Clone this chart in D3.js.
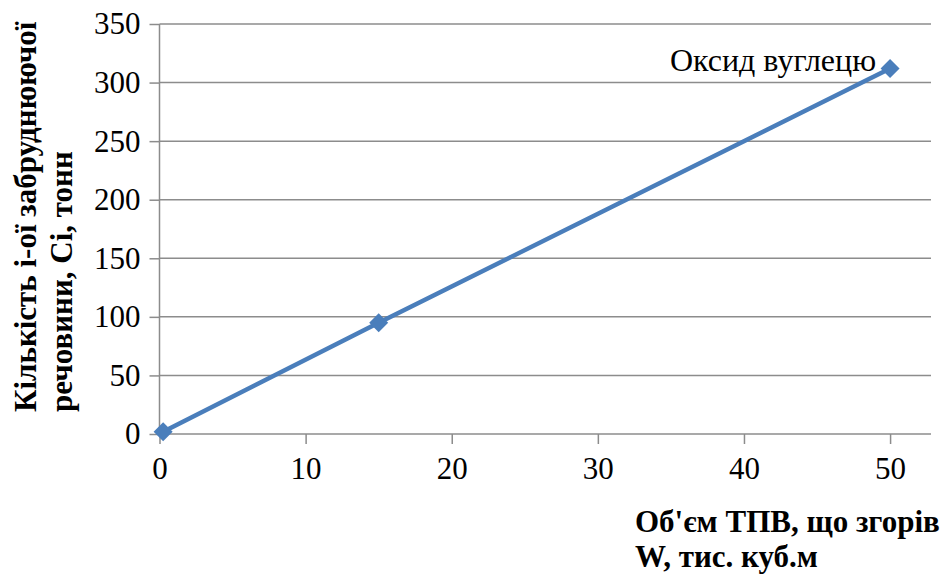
<!DOCTYPE html>
<html><head><meta charset="utf-8">
<script src="https://cdn.jsdelivr.net/npm/d3@7"></script>
<style>body{margin:0;background:#fff}</style>
</head><body>
<svg id="c" width="941" height="576"></svg>
<script>
const xValues = [0.25, 15, 50];
const yValues = [2, 95, 312];
const seriesName = "Оксид вуглецю";
const xTicks = [0, 10, 20, 30, 40, 50];
const yTicks = [0, 50, 100, 150, 200, 250, 300, 350];
const yTitleLines = ["Кількість і-ої забруднюючої", "речовини, Сі, тонн"];
const xTitleLines = ["Об'єм ТПВ, що згорів", "W, тис. куб.м"];

const svg = d3.select("#c");
const font = "'Liberation Serif','Times New Roman',serif";
const L = 159.5, R = 931, T = 24, B = 434;
const x = d3.scaleLinear().domain([0, 52.8]).range([L, R]);
const y = d3.scaleLinear().domain([0, 350]).range([B, T]);
const grid = "#8c8c8c";

// horizontal gridlines
svg.append("g").selectAll("line").data(yTicks.filter(d => d > 0)).join("line")
  .attr("x1", L).attr("x2", R).attr("y1", d => y(d)).attr("y2", d => y(d))
  .attr("stroke", grid).attr("stroke-width", 1.5);

// y axis
const ya = svg.append("g").attr("transform", `translate(${L},0)`)
  .call(d3.axisLeft(y).tickValues(yTicks).tickSize(10).tickSizeOuter(0).tickPadding(9));
// x axis
const xa = svg.append("g").attr("transform", `translate(0,${B})`)
  .call(d3.axisBottom(x).tickValues(xTicks).tickSize(10).tickSizeOuter(0).tickPadding(13));
[ya, xa].forEach(a => {
  a.select(".domain").attr("stroke", grid).attr("stroke-width", 1.5);
  a.selectAll(".tick line").attr("stroke", grid).attr("stroke-width", 1.5);
  a.selectAll("text").attr("font-family", font).attr("font-size", 31).attr("fill", "#000");
});
xa.select(".domain").attr("d", `M${L},0H${R}`);
ya.select(".domain").attr("d", `M0,${T}V${B}`);

// line
const pts = xValues.map((v, i) => [v, yValues[i]]);
svg.append("path").datum(pts)
  .attr("d", d3.line().x(d => x(d[0])).y(d => y(d[1])))
  .attr("fill", "none").attr("stroke", "#4a7ebb").attr("stroke-width", 4.5);
svg.append("g").selectAll("path").data(pts).join("path")
  .attr("d", d3.symbol(d3.symbolDiamond2, 230)())
  .attr("transform", d => `translate(${x(d[0])},${y(d[1])})`)
  .attr("fill", "#4a7ebb");

// data label
const last = pts[pts.length - 1];
svg.append("text").attr("x", x(last[0]) - 14).attr("y", y(last[1]) + 2)
  .attr("text-anchor", "end").attr("font-family", font).attr("font-size", 32)
  .attr("fill", "#000").text(seriesName);

// y title
const yt = svg.append("text").attr("transform", "translate(0,412) rotate(-90)")
  .attr("font-family", font).attr("font-size", 31).attr("font-weight", "bold").attr("fill", "#000");
yTitleLines.forEach((t, i) => yt.append("tspan").attr("x", 0).attr("y", 36 + i * 36).text(t));

// x title
const xt = svg.append("text").attr("font-family", font).attr("font-size", 31)
  .attr("font-weight", "bold").attr("fill", "#000");
xTitleLines.forEach((t, i) => xt.append("tspan").attr("x", 635).attr("y", 532 + i * 35).text(t));
</script>
</body></html>
